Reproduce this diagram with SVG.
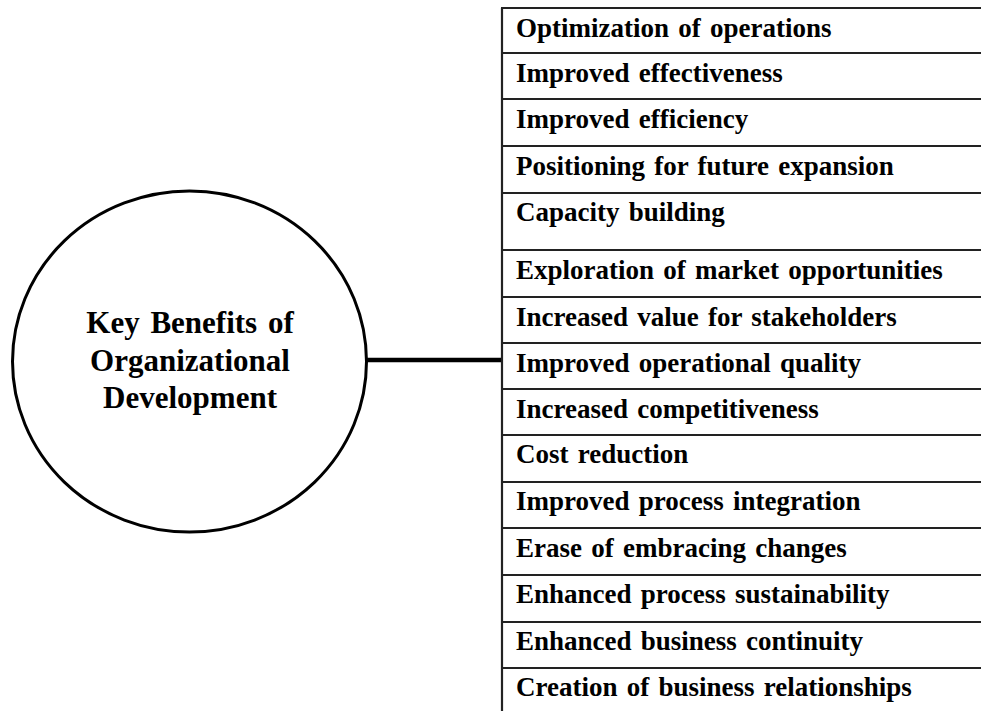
<svg xmlns="http://www.w3.org/2000/svg" width="981" height="711" viewBox="0 0 981 711">
<style>
.row{font-family:"Liberation Serif","Times New Roman",serif;font-weight:bold;font-size:27px;word-spacing:2.5px;fill:#000}
.hub{font-family:"Liberation Serif","Times New Roman",serif;font-weight:bold;font-size:31px;word-spacing:3px;fill:#000;text-anchor:middle}
.rl{stroke:#222;stroke-width:2.2;fill:none}
</style>
<rect width="981" height="711" fill="#fff"/>
<g id="hub">
<ellipse cx="189.5" cy="361.5" rx="177" ry="170.5" fill="#fff" stroke="#000" stroke-width="3"/>
<text class="hub" x="190" y="333">Key Benefits of</text>
<text class="hub" x="190" y="371">Organizational</text>
<text class="hub" x="190" y="408">Development</text>
</g>
<g id="connectors">
<line x1="367" y1="360" x2="502" y2="360" stroke="#000" stroke-width="4.5"/>
</g>
<g id="benefits">
<line class="rl" x1="502" y1="8" x2="502" y2="711"/>
<line class="rl" x1="501" y1="8" x2="981" y2="8"/>
<line class="rl" x1="501" y1="53" x2="981" y2="53"/>
<line class="rl" x1="501" y1="99" x2="981" y2="99"/>
<line class="rl" x1="501" y1="146" x2="981" y2="146"/>
<line class="rl" x1="501" y1="193" x2="981" y2="193"/>
<line class="rl" x1="501" y1="250" x2="981" y2="250"/>
<line class="rl" x1="501" y1="297" x2="981" y2="297"/>
<line class="rl" x1="501" y1="343" x2="981" y2="343"/>
<line class="rl" x1="501" y1="389" x2="981" y2="389"/>
<line class="rl" x1="501" y1="435" x2="981" y2="435"/>
<line class="rl" x1="501" y1="482" x2="981" y2="482"/>
<line class="rl" x1="501" y1="528" x2="981" y2="528"/>
<line class="rl" x1="501" y1="575" x2="981" y2="575"/>
<line class="rl" x1="501" y1="622" x2="981" y2="622"/>
<line class="rl" x1="501" y1="668" x2="981" y2="668"/>
<g id="b1"><text class="row" x="516" y="37">Optimization of operations</text></g>
<g id="b2"><text class="row" x="516" y="82">Improved effectiveness</text></g>
<g id="b3"><text class="row" x="516" y="128">Improved efficiency</text></g>
<g id="b4"><text class="row" x="516" y="175">Positioning for future expansion</text></g>
<g id="b5"><text class="row" x="516" y="221">Capacity building</text></g>
<g id="b6"><text class="row" x="516" y="279">Exploration of market opportunities</text></g>
<g id="b7"><text class="row" x="516" y="326">Increased value for stakeholders</text></g>
<g id="b8"><text class="row" x="516" y="372">Improved operational quality</text></g>
<g id="b9"><text class="row" x="516" y="418">Increased competitiveness</text></g>
<g id="b10"><text class="row" x="516" y="463">Cost reduction</text></g>
<g id="b11"><text class="row" x="516" y="510">Improved process integration</text></g>
<g id="b12"><text class="row" x="516" y="557">Erase of embracing changes</text></g>
<g id="b13"><text class="row" x="516" y="603">Enhanced process sustainability</text></g>
<g id="b14"><text class="row" x="516" y="650">Enhanced business continuity</text></g>
<g id="b15"><text class="row" x="516" y="696">Creation of business relationships</text></g>
</g>
</svg>
